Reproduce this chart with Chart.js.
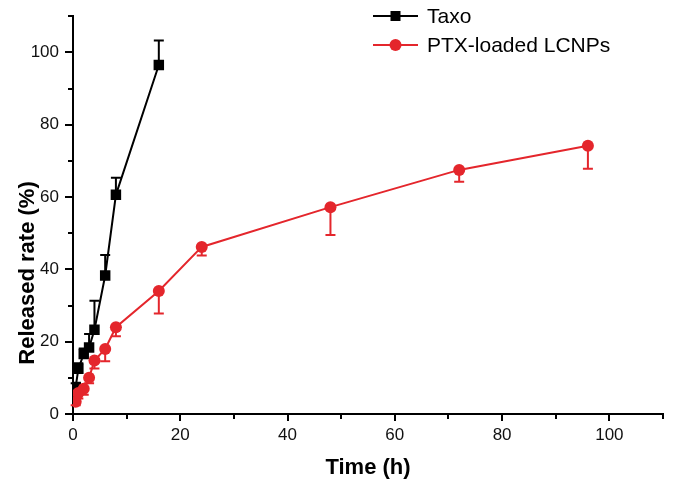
<!DOCTYPE html>
<html>
<head>
  <meta charset="UTF-8">
  <title>Release profile</title>
  <style type="text/css">
    body { margin: 0; background: #fff; }
    #chart-container { width: 677px; height: 491px; }
  </style>
  <script src="https://cdn.jsdelivr.net/npm/chart.js"></script>
</head>
<body>
  <div id="chart-container">
    <canvas id="graphCanvas" width="677" height="491"></canvas>
  </div>

  <script>
    // values
    var taxoTime = [0.5, 1, 2, 3, 4, 6, 8, 16];
    var taxoRate = [7.5, 12.5, 16.6, 18.4, 23.3, 38.3, 60.6, 96.5];
    var taxoErr = [1.0, 1.5, 1.5, 3.7, 8.0, 5.7, 4.7, 6.8];

    var lcnpTime = [0.5, 1, 2, 3, 4, 6, 8, 16, 24, 48, 72, 96];
    var lcnpRate = [3.4, 5.8, 7.0, 10.0, 14.8, 18.0, 24.0, 34.0, 46.2, 57.2, 67.5, 74.2];
    var lcnpErr = [1.0, 1.5, 1.7, 1.5, 2.2, 3.4, 2.5, 6.2, 2.4, 7.7, 3.3, 6.4];

    var seriesNames = ['Taxo', 'PTX-loaded LCNPs'];
    var xLabels = [0, 20, 40, 60, 80, 100];
    var yLabels = [0, 20, 40, 60, 80, 100];

    var black = '#000000';
    var red = '#e4262c';
    var fontName = "'Liberation Sans', Arial, sans-serif";

    function toPoints(xs, ys) {
      var pts = [];
      for (var i = 0; i < xs.length; i++) {
        pts.push({ x: xs[i], y: ys[i] });
      }
      return pts;
    }

    // vertical error bars (taxo up, lcnp down)
    var errorBars = {
      id: 'errorBars',
      beforeDatasetsDraw: function(chart) {
        var ctx = chart.ctx;
        var yScale = chart.scales.y;
        chart.data.datasets.forEach(function(ds, i) {
          var meta = chart.getDatasetMeta(i);
          ctx.save();
          ctx.strokeStyle = ds.borderColor;
          ctx.lineWidth = 2;
          meta.data.forEach(function(pt, j) {
            var v = ds.data[j].y + ds.errDir * ds.errors[j];
            var yEnd = yScale.getPixelForValue(v);
            ctx.beginPath();
            ctx.moveTo(pt.x, pt.y);
            ctx.lineTo(pt.x, yEnd);
            ctx.moveTo(pt.x - 5, yEnd);
            ctx.lineTo(pt.x + 5, yEnd);
            ctx.stroke();
          });
          ctx.restore();
        });
      }
    };

    // short minor ticks, y title and legend
    var extras = {
      id: 'extras',
      afterDraw: function(chart) {
        var ctx = chart.ctx;
        var xs = chart.scales.x, ys = chart.scales.y;
        var area = chart.chartArea;
        ctx.save();
        ctx.strokeStyle = black;
        ctx.lineWidth = 2;
        xs.ticks.forEach(function(t) {
          if (xLabels.indexOf(t.value) < 0) {
            var px = Math.round(xs.getPixelForValue(t.value));
            ctx.beginPath();
            ctx.moveTo(px, area.bottom);
            ctx.lineTo(px, area.bottom + 5);
            ctx.stroke();
          }
        });
        ys.ticks.forEach(function(t) {
          if (yLabels.indexOf(t.value) < 0) {
            var py = Math.round(ys.getPixelForValue(t.value));
            ctx.beginPath();
            ctx.moveTo(area.left, py);
            ctx.lineTo(area.left - 5, py);
            ctx.stroke();
          }
        });

        // y axis title
        ctx.fillStyle = black;
        ctx.font = "bold 22px " + fontName;
        ctx.textAlign = 'center';
        ctx.textBaseline = 'middle';
        ctx.translate(28, 273);
        ctx.rotate(-Math.PI / 2);
        ctx.fillText('Released rate (%)', 0, 0);
        ctx.restore();

        // legend
        ctx.save();
        ctx.font = "21px " + fontName;
        ctx.textBaseline = 'middle';
        ctx.textAlign = 'left';
        var rows = [
          { y: 16, color: black, square: true },
          { y: 45, color: red, square: false }
        ];
        rows.forEach(function(r, i) {
          ctx.strokeStyle = r.color;
          ctx.fillStyle = r.color;
          ctx.lineWidth = 2;
          ctx.beginPath();
          ctx.moveTo(373, r.y);
          ctx.lineTo(418, r.y);
          ctx.stroke();
          if (r.square) {
            ctx.fillRect(390.5, r.y - 5, 10, 10);
          } else {
            ctx.beginPath();
            ctx.arc(395.5, r.y, 6, 0, Math.PI * 2);
            ctx.fill();
          }
          ctx.fillStyle = black;
          ctx.fillText(seriesNames[i], 427, r.y + 1);
        });
        ctx.restore();
      }
    };

    var chartdata = {
      datasets: [{
        label: seriesNames[0],
        data: toPoints(taxoTime, taxoRate),
        errors: taxoErr,
        errDir: 1,
        borderColor: black,
        backgroundColor: black,
        borderWidth: 2,
        pointStyle: 'rect',
        pointRadius: 7.4,
        pointBorderWidth: 0,
        order: 1
      }, {
        label: seriesNames[1],
        data: toPoints(lcnpTime, lcnpRate),
        errors: lcnpErr,
        errDir: -1,
        borderColor: red,
        backgroundColor: red,
        borderWidth: 2,
        pointStyle: 'circle',
        pointRadius: 6,
        pointBorderWidth: 0,
        order: 0
      }]
    };

    var graphTarget = document.getElementById('graphCanvas');

    var lineGraph = new Chart(graphTarget, {
      type: 'line',
      data: chartdata,
      options: {
        responsive: false,
        animation: false,
        layout: { padding: { top: 12, right: 14, left: 0, bottom: 0 } },
        plugins: {
          legend: { display: false },
          tooltip: { enabled: false }
        },
        scales: {
          x: {
            type: 'linear',
            min: 0,
            max: 110,
            afterFit: function(s) { s.height = 77; },
            border: { display: true, color: black, width: 2 },
            grid: {
              drawOnChartArea: false,
              tickLength: 7,
              lineWidth: 2,
              tickColor: function(c) {
                return xLabels.indexOf(c.tick.value) >= 0 ? black : 'rgba(0,0,0,0)';
              }
            },
            ticks: {
              stepSize: 10,
              maxRotation: 0,
              autoSkip: false,
              padding: 4,
              color: '#111',
              font: { family: fontName, size: 17 },
              callback: function(v) { return xLabels.indexOf(v) >= 0 ? v : ''; }
            },
            title: {
              display: true,
              text: 'Time (h)',
              color: black,
              font: { family: fontName, size: 22, weight: 'bold' },
              padding: { top: 0, bottom: 10 }
            }
          },
          y: {
            min: 0,
            max: 110,
            afterFit: function(s) { s.width = 73; },
            border: { display: true, color: black, width: 2 },
            grid: {
              drawOnChartArea: false,
              tickLength: 8,
              lineWidth: 2,
              tickColor: function(c) {
                return yLabels.indexOf(c.tick.value) >= 0 ? black : 'rgba(0,0,0,0)';
              }
            },
            ticks: {
              stepSize: 10,
              autoSkip: false,
              padding: 6,
              color: '#111',
              font: { family: fontName, size: 17 },
              callback: function(v) { return yLabels.indexOf(v) >= 0 ? v : ''; }
            },
            title: { display: false }
          }
        }
      },
      plugins: [errorBars, extras]
    });
  </script>
</body>
</html>
